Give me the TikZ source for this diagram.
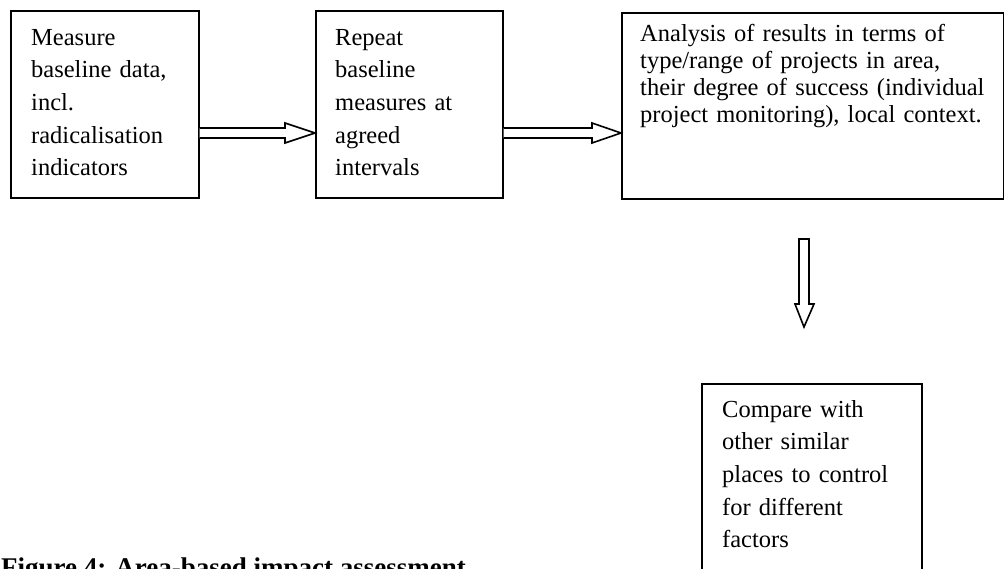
\documentclass[tikz,border=0pt]{standalone}
\usepackage{fontspec}
\setmainfont{Liberation Serif}
\begin{document}
\begin{tikzpicture}[x=1pt,y=-1pt,
  box/.style={draw=black,line width=1.7pt,rectangle,inner sep=0pt,anchor=north west},
  btext/.style={anchor=base west,inner sep=0pt,align=left,text width=#1,
    font=\fontsize{24.5}{32.7}\selectfont},
  ctext/.style={anchor=base west,inner sep=0pt,align=left,text width=360pt,
    font=\fontsize{24.5}{27}\selectfont},
  hollow/.style={draw=black,line width=1.6pt,fill=white,line join=miter}]
\clip (0,0) rectangle (1004,568);
\fill[white] (0,0) rectangle (1004,568);
% boxes
\node[box,minimum width=188pt,minimum height=187pt] (b1) at (10,10) {};
\node[box,minimum width=187pt,minimum height=187pt] (b2) at (315,10) {};
\node[box,minimum width=382pt,minimum height=186pt] (b3) at (621,12) {};
\node[box,minimum width=220pt,minimum height=220pt] (b4) at (701,383) {};
% texts
\node[btext=170pt] (t1) at (31,45) {Measure\\baseline data,\\incl.\\radicalisation\\indicators};
\node[btext=170pt] (t2) at (335,45) {Repeat\\baseline\\measures at\\agreed\\intervals};
\node[ctext] (t3) at (640,41) {Analysis of results in terms of\\type/range of projects in area,\\their degree of success (individual\\project monitoring), local context.};
\node[btext=195pt] (t4) at (722,417) {Compare with\\other similar\\places to control\\for different\\factors};
% arrow 1
\draw[hollow] (b1.east |- 0,128) -- (285,128) -- (285,123) -- (b2.west |- 0,133)
  -- (285,143) -- (285,138) -- (b1.east |- 0,138);
% arrow 2
\draw[hollow] (b2.east |- 0,128) -- (592,128) -- (592,123) -- (b3.west |- 0,133)
  -- (592,143) -- (592,138) -- (b2.east |- 0,138);
% arrow 3
\coordinate (a3s) at (804,239);
\coordinate (a3e) at (804,327);
\draw[hollow] ([xshift=-5pt]a3s) -- ([xshift=5pt]a3s) -- ([xshift=5pt]a3s |- 0,304)
  -- ([xshift=10pt]a3s |- 0,304) -- (a3e) -- ([xshift=-9pt]a3s |- 0,304)
  -- ([xshift=-5pt]a3s |- 0,304) -- cycle;
% caption (cut off at the lower edge, as in the reference)
\node[anchor=base west,inner sep=0pt,font=\fontsize{27}{30}\selectfont\bfseries] (cap) at (1,576) {Figure 4: Area-based impact assessment};
\end{tikzpicture}
\end{document}
